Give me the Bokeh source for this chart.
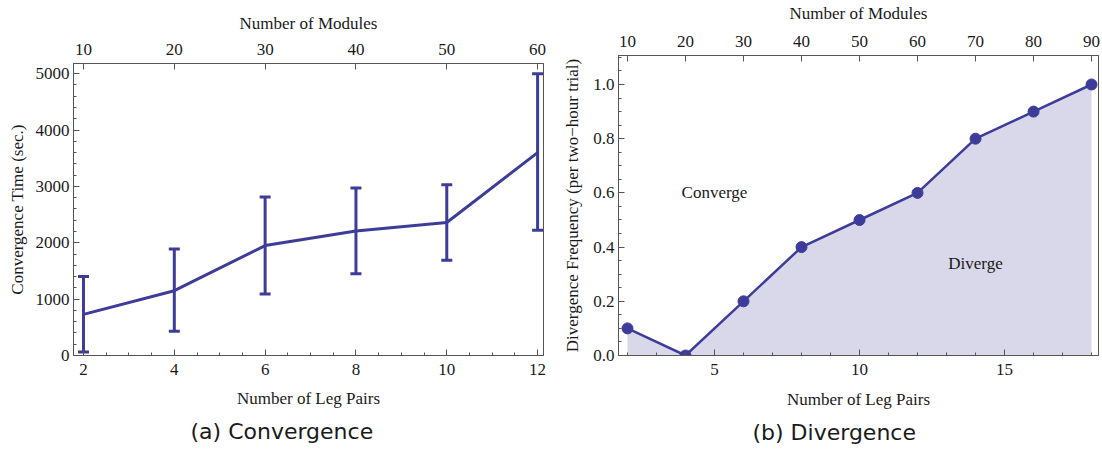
from bokeh.plotting import figure
from bokeh.layouts import row
from bokeh.models import (Range1d, LinearAxis, SingleIntervalTicker, FixedTicker,
                          ColumnDataSource, Whisker, TeeHead, Title, Label,
                          PrintfTickFormatter)
from bokeh.embed import file_html
from bokeh.resources import INLINE

# ---- data ----
leg_pairs_a = [2, 4, 6, 8, 10, 12]
conv_time_mean = [730, 1150, 1950, 2210, 2360, 3600]
conv_time_low = [60, 430, 1090, 1450, 1690, 2220]
conv_time_high = [1400, 1890, 2810, 2970, 3030, 5000]

leg_pairs_b = [2, 4, 6, 8, 10, 12, 14, 16, 18]
div_freq = [0.1, 0.0, 0.2, 0.4, 0.5, 0.6, 0.8, 0.9, 1.0]

modules_ticks_a = [10, 20, 30, 40, 50, 60]
modules_ticks_b = [10, 20, 30, 40, 50, 60, 70, 80, 90]

LINE = "#3d3d99"
FILL = "#d8d8ea"
AX = "#555555"
TXT = "#1a1a1a"
SERIF = "Liberation Serif"
FS = "17px"


def style_axis(ax, label_standoff, major_standoff):
    ax.axis_line_color = AX
    ax.major_tick_line_color = AX
    ax.minor_tick_line_color = AX
    ax.major_tick_in = 6
    ax.major_tick_out = 0
    ax.minor_tick_in = 3
    ax.minor_tick_out = 0
    ax.major_label_text_font = SERIF
    ax.major_label_text_font_size = FS
    ax.major_label_text_color = TXT
    ax.axis_label_text_font = SERIF
    ax.axis_label_text_font_size = FS
    ax.axis_label_text_font_style = "normal"
    ax.axis_label_text_color = TXT
    ax.axis_label_standoff = label_standoff
    ax.major_label_standoff = major_standoff


def base_fig(width, xr, yr, ml, mr, mt, mb, fw, fh):
    p = figure(width=width, height=449, x_range=xr, y_range=yr,
               output_backend="svg", toolbar_location=None,
               min_border_left=ml, min_border_right=mr,
               min_border_top=mt, min_border_bottom=mb,
               frame_width=fw, frame_height=fh)
    try:
        p.frame_align = False
    except Exception:
        pass
    p.xgrid.visible = False
    p.ygrid.visible = False
    p.outline_line_color = AX
    p.outline_line_width = 1
    p.background_fill_color = "white"
    p.border_fill_color = "white"
    return p


def caption(text, offset):
    t = Title(text=text, align="left", text_font="DejaVu Sans",
              text_font_size="22px", text_font_style="normal",
              text_color=TXT, offset=offset)
    try:
        t.standoff = 12
    except Exception:
        pass
    return t


# ---- panel (a) ----
pa = base_fig(551, Range1d(1.78, 12.13), Range1d(0, 5180), 73, 8, 63, 94, 470, 292)
pa.extra_x_ranges = {"mod": Range1d(1.78 * 5, 12.13 * 5)}
pa.xaxis.ticker = SingleIntervalTicker(interval=2, num_minor_ticks=4)
pa.yaxis.ticker = SingleIntervalTicker(interval=1000, num_minor_ticks=5)
pa.xaxis.axis_label = "Number of Leg Pairs"
pa.yaxis.axis_label = "Convergence Time (sec.)"
style_axis(pa.xaxis[0], 11, 8)
style_axis(pa.yaxis[0], 6, 4)
top_a = LinearAxis(x_range_name="mod", axis_label="Number of Modules",
                   ticker=FixedTicker(ticks=modules_ticks_a))
style_axis(top_a, 8, 9)
pa.add_layout(top_a, "above")

src_a = ColumnDataSource(dict(x=leg_pairs_a, y=conv_time_mean,
                              lo=conv_time_low, hi=conv_time_high))
pa.line("x", "y", source=src_a, line_color=LINE, line_width=3)
wa = Whisker(source=src_a, base="x", lower="lo", upper="hi",
             line_color=LINE, line_width=3,
             upper_head=TeeHead(size=11, line_color=LINE, line_width=3),
             lower_head=TeeHead(size=11, line_color=LINE, line_width=3))
pa.add_layout(wa)
pa.add_layout(caption("(a) Convergence", 117), "below")

# ---- panel (b) ----
pb = base_fig(551, Range1d(1.69, 18.24), Range1d(0, 1.107), 67, 4, 55, 94, 480, 300)
pb.extra_x_ranges = {"mod": Range1d(1.69 * 5, 18.24 * 5)}
pb.xaxis.ticker = SingleIntervalTicker(interval=5, num_minor_ticks=5)
pb.yaxis.ticker = SingleIntervalTicker(interval=0.2, num_minor_ticks=4)
pb.yaxis.formatter = PrintfTickFormatter(format="%.1f")
pb.xaxis.axis_label = "Number of Leg Pairs"
pb.yaxis.axis_label = "Divergence Frequency (per two\u2212hour trial)"
style_axis(pb.xaxis[0], 12, 8)
style_axis(pb.yaxis[0], 8, 4)
top_b = LinearAxis(x_range_name="mod", axis_label="Number of Modules",
                   ticker=FixedTicker(ticks=modules_ticks_b))
style_axis(top_b, 10, 9)
pb.add_layout(top_b, "above")

src_b = ColumnDataSource(dict(x=leg_pairs_b, y=div_freq, z=[0] * len(div_freq)))
pb.varea(x="x", y1="z", y2="y", source=src_b, fill_color=FILL, fill_alpha=1)
pb.line("x", "y", source=src_b, line_color=LINE, line_width=2.5)
pb.scatter("x", "y", source=src_b, size=11, fill_color=LINE, line_color=LINE)
pb.add_layout(Label(x=5.0, y=0.6, text="Converge", text_font=SERIF,
                    text_font_size=FS, text_color=TXT,
                    text_align="center", text_baseline="middle"))
pb.add_layout(Label(x=14.0, y=0.34, text="Diverge", text_font=SERIF,
                    text_font_size=FS, text_color=TXT,
                    text_align="center", text_baseline="middle"))
pb.add_layout(caption("(b) Divergence", 134), "below")

layout = row(pa, pb, spacing=0)
open("out.html", "w").write(file_html(layout, INLINE))
